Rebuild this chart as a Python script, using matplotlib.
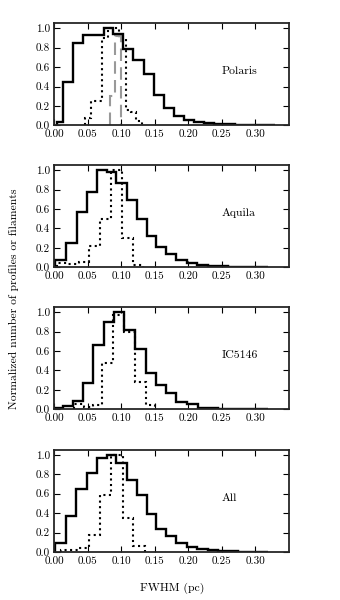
import numpy as np
import matplotlib
matplotlib.use('Agg')
import matplotlib.pyplot as plt

plt.rcParams['font.family'] = ['cmr10', 'DejaVu Serif']
plt.rcParams['mathtext.fontset'] = 'cm'
plt.rcParams['axes.formatter.use_mathtext'] = True

# Histogram data: bin edges and normalized heights
names = ['Polaris', 'Aquila', 'IC5146', 'All']

solid_edges = [
    [0.004, 0.0129, 0.0280, 0.0436, 0.0600, 0.0747, 0.0880, 0.1030, 0.1180, 0.1340,
     0.1490, 0.1640, 0.1790, 0.1940, 0.2090, 0.2240, 0.2390, 0.2540, 0.2690, 0.2840,
     0.2990, 0.3140, 0.3290],
    [0.0015, 0.0173, 0.0337, 0.0495, 0.0640, 0.0790, 0.0930, 0.1090, 0.1230, 0.1380,
     0.1520, 0.1670, 0.1820, 0.1980, 0.2130, 0.2290, 0.2440, 0.2590, 0.2740, 0.2890,
     0.3040, 0.3190],
    [0.003, 0.0135, 0.0277, 0.0436, 0.0584, 0.0743, 0.0900, 0.1040, 0.1200, 0.1370,
     0.1520, 0.1670, 0.1820, 0.1980, 0.2140, 0.2290, 0.2440, 0.2590, 0.2740, 0.2890,
     0.3040, 0.3190],
    [0.0015, 0.0173, 0.0327, 0.0495, 0.0640, 0.0790, 0.0930, 0.1090, 0.1230, 0.1380,
     0.1520, 0.1670, 0.1820, 0.1980, 0.2130, 0.2290, 0.2440, 0.2590, 0.2740, 0.2890,
     0.3040, 0.3190],
]
solid_vals = [
    [0.04, 0.45, 0.85, 0.93, 0.935, 1.0, 0.94, 0.79, 0.67, 0.53, 0.31, 0.18, 0.10,
     0.06, 0.04, 0.02, 0.015, 0.01, 0.006, 0.005, 0.003, 0.002],
    [0.08, 0.25, 0.57, 0.78, 1.0, 0.98, 0.87, 0.69, 0.50, 0.32, 0.21, 0.14, 0.08,
     0.04, 0.02, 0.015, 0.01, 0.006, 0.004, 0.003, 0.002],
    [0.01, 0.03, 0.09, 0.27, 0.66, 0.90, 1.0, 0.82, 0.62, 0.37, 0.25, 0.17, 0.08,
     0.05, 0.015, 0.01, 0.008, 0.005, 0.004, 0.003, 0.002],
    [0.09, 0.37, 0.65, 0.81, 0.97, 1.0, 0.92, 0.74, 0.59, 0.39, 0.24, 0.16, 0.09,
     0.05, 0.03, 0.02, 0.01, 0.006, 0.004, 0.003, 0.002],
]

dotted_edges = [
    [0.046, 0.0545, 0.0630, 0.0715, 0.0800, 0.0885, 0.0970, 0.1065, 0.1140, 0.1225, 0.1310],
    [0.0045, 0.0205, 0.0365, 0.0525, 0.0680, 0.0847, 0.1005, 0.1169, 0.1330],
    [0.030, 0.045, 0.058, 0.0715, 0.0880, 0.1040, 0.1200, 0.1370, 0.1500],
    [0.010, 0.026, 0.036, 0.052, 0.068, 0.0855, 0.1025, 0.1180, 0.1350],
]
dotted_vals = [
    [0.08, 0.25, 0.25, 0.90, 1.0, 1.0, 0.90, 0.16, 0.14, 0.05],
    [0.04, 0.03, 0.05, 0.22, 0.50, 1.0, 0.30, 0.02],
    [0.05, 0.02, 0.04, 0.48, 0.97, 0.80, 0.28, 0.04],
    [0.02, 0.02, 0.04, 0.17, 0.59, 1.0, 0.35, 0.06],
]

# Polaris only: narrow dashed distribution
dashed_edges = [0.083, 0.0907, 0.099]
dashed_vals = [0.30, 0.92]

fig = plt.figure(figsize=(3.4, 6.0), dpi=100)
bottoms = [0.791, 0.5545, 0.3178, 0.080]

for i, name in enumerate(names):
    ax = fig.add_axes([0.159, bottoms[i], 0.691, 0.170])
    ax.stairs(dotted_vals[i], dotted_edges[i], color='black', lw=1.5, linestyle=':')
    if name == 'Polaris':
        ax.stairs(dashed_vals, dashed_edges, color='0.6', lw=1.5, linestyle=(0, (6, 3)))
    ax.stairs(solid_vals[i], solid_edges[i], color='black', lw=1.7)

    ax.set_xlim(0, 0.35)
    ax.set_ylim(0, 1.05)
    ax.set_xticks(np.arange(0, 0.31, 0.05))
    ax.set_yticks(np.arange(0, 1.01, 0.2))
    ax.set_xticklabels(['0.00', '0.05', '0.10', '0.15', '0.20', '0.25', '0.30'])
    ax.set_yticklabels(['0.0', '0.2', '0.4', '0.6', '0.8', '1.0'])
    ax.tick_params(direction='in', top=True, right=True, length=4, width=0.8,
                   labelsize=8, pad=3)
    for sp in ax.spines.values():
        sp.set_linewidth(1.3)
        sp.set_color('0.15')
    ax.text(0.25, 0.53, name, fontsize=8.5)

fig.text(0.042, 0.502, 'Normalized number of profiles or filaments',
         rotation=90, ha='center', va='center', fontsize=8.4)
fig.text(0.505, 0.02, 'FWHM (pc)', ha='center', va='center', fontsize=8.5)

fig.savefig('out.png', dpi=100)
